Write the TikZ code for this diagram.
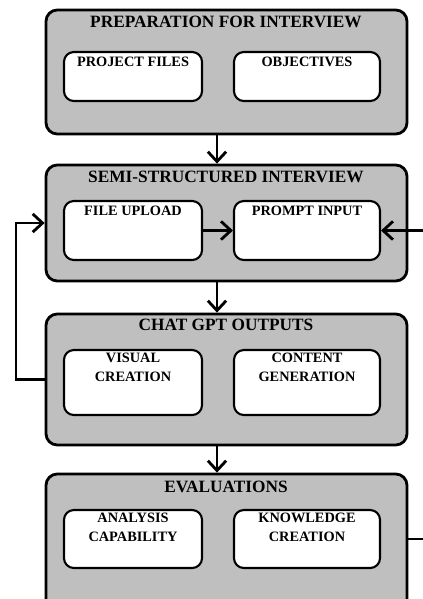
\documentclass[tikz,border=0pt]{standalone}
\usepackage{fontspec}
\setmainfont{Liberation Serif}
\usetikzlibrary{arrows.meta}

\begin{document}
\begin{tikzpicture}[
  stage/.style={draw, line width=2pt, rounded corners=8pt, fill=black!25, minimum width=9.025cm},
  item/.style={draw, line width=1.5pt, rounded corners=7pt, fill=white},
  leftitem/.style={item, minimum width=3.45cm},
  rightitem/.style={item, minimum width=3.65cm},
  stagetitle/.style={inner sep=0pt, font=\bfseries\fontsize{12.3}{14}\selectfont},
  itemtext/.style={anchor=north, align=center, inner sep=1pt, font=\bfseries\fontsize{10.2}{13.5}\selectfont},
  flow/.style={line width=2pt, -{Straight Barb[length=7pt,width=13pt]}}
]
  \useasboundingbox (0cm,0cm) rectangle (10.575cm,-14.975cm);
  \coordinate (ax) at (5.425cm,0cm);
  \coordinate (back) at (0.4cm,0cm);
  \coordinate (edge) at (10.575cm,0cm);
  \node[stage, minimum height=3.1cm] (prep) at (5.6625cm,-1.8cm) {};
  \node[stagetitle] (preptitle) at (5.65cm,-0.55cm) {PREPARATION FOR INTERVIEW};
  \node[leftitem, minimum height=1.225cm] (files) at (3.325cm,-1.9125cm) {};
  \node[itemtext] (filestext) at ([yshift=-0.1cm]files.north) {PROJECT FILES};
  \node[rightitem, minimum height=1.225cm] (objectives) at (7.675cm,-1.9125cm) {};
  \node[itemtext] (objectivestext) at ([yshift=-0.1cm]objectives.north) {OBJECTIVES};
  \node[stage, minimum height=2.9cm] (semi) at (5.6625cm,-5.575cm) {};
  \node[stagetitle] (semititle) at (5.65cm,-4.425cm) {SEMI-STRUCTURED INTERVIEW};
  \node[leftitem, minimum height=1.475cm] (upload) at (3.325cm,-5.7625cm) {};
  \node[itemtext] (uploadtext) at ([yshift=-0.1cm]upload.north) {FILE UPLOAD};
  \node[rightitem, minimum height=1.475cm] (prompt) at (7.675cm,-5.7625cm) {};
  \node[itemtext] (prompttext) at ([yshift=-0.1cm]prompt.north) {PROMPT INPUT};
  \node[stage, minimum height=3.275cm] (outputs) at (5.6625cm,-9.4875cm) {};
  \node[stagetitle] (outputstitle) at (5.65cm,-8.125cm) {CHAT GPT OUTPUTS};
  \node[leftitem, minimum height=1.625cm] (visual) at (3.325cm,-9.5625cm) {};
  \node[itemtext] (visualtext) at ([yshift=-0.05cm]visual.north) {VISUAL\\CREATION};
  \node[rightitem, minimum height=1.625cm] (content) at (7.675cm,-9.5625cm) {};
  \node[itemtext] (contenttext) at ([yshift=-0.05cm]content.north) {CONTENT\\GENERATION};
  \node[stage, minimum height=3.65cm] (eval) at (5.6625cm,-13.675cm) {};
  \node[stagetitle] (evaltitle) at (5.65cm,-12.175cm) {EVALUATIONS};
  \node[leftitem, minimum height=1.45cm] (analysis) at (3.325cm,-13.475cm) {};
  \node[itemtext] (analysistext) at ([yshift=-0.05cm]analysis.north) {ANALYSIS\\CAPABILITY};
  \node[rightitem, minimum height=1.45cm] (knowledge) at (7.675cm,-13.475cm) {};
  \node[itemtext] (knowledgetext) at ([yshift=-0.05cm]knowledge.north) {KNOWLEDGE\\CREATION};
  \draw[flow] (prep.south -| ax) -- (semi.north -| ax);
  \draw[flow] (semi.south -| ax) -- (outputs.north -| ax);
  \draw[flow] (outputs.south -| ax) -- (eval.north -| ax);
  \draw[flow] (upload.east) -- (prompt.west);
  \draw[flow] (prompt.east -| edge) -- (prompt.east);
  \draw[flow] (outputs.west) -- (outputs.west -| back) |- (semi.west);
  \draw[line width=2pt] (knowledge -| eval.east) -- (knowledge -| edge);
\end{tikzpicture}
\end{document}
